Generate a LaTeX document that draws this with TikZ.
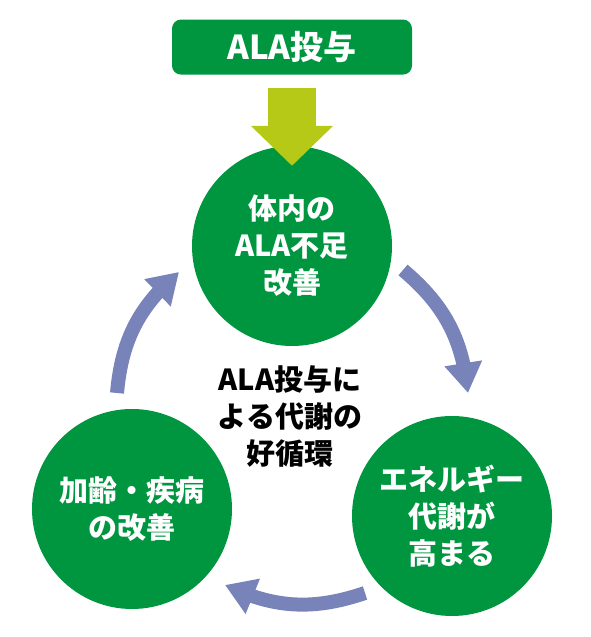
\documentclass[tikz,border=0pt]{standalone}
\usepackage{fontspec}
\setmainfont{Noto Sans CJK JP}
\usepackage{tikz}
\usetikzlibrary{arrows.meta, bending, positioning}
\definecolor{leaf}{RGB}{0,150,64}
\definecolor{lime}{RGB}{181,201,22}
\definecolor{cycle}{RGB}{120,131,186}

\begin{document}
\begin{tikzpicture}[x=1pt, y=1pt, node distance=71pt,
        every node/.style={font=\fontsize{29}{37}\selectfont\bfseries},
        circ/.style={circle, fill=leaf, text=white, minimum size=200pt, inner sep=0pt, align=center},
        dose/.style={rectangle, fill=leaf, text=white, rounded corners=9pt, minimum width=240pt, minimum height=55pt,
            font=\fontsize{33}{37}\selectfont\bfseries},
        feed/.style={draw=lime, line width=48pt, -{Triangle[width=80pt, length=40pt]}},
        turn/.style={draw=cycle, line width=14pt, -{Triangle[width=36pt, length=30pt]}}]
        \useasboundingbox (0,0) rectangle (590,637);

        \node[circ] (body) at (292,391) {体内の\\ALA不足\\改善};
        \node[dose, above=of body] (ala) {ALA投与};
        \node[circ] (energy) at (452,121) {エネルギー\\代謝が\\高まる};
        \node[circ] (aging) at (132,128) {加齢・疾病\\の改善};
        \node[align=center] (loop) at (290,220) {ALA投与に\\よる代謝の\\好循環};

        % ends of the cycle arrows
        \coordinate (t1) at (403,367);
        \coordinate (h1) at (468,244);
        \coordinate (t2) at (365,44);
        \coordinate (h2) at (225,52);
        \coordinate (t3) at (117,244);
        \coordinate (h3) at (179,365);

        \draw[feed] ([yshift=-13pt]ala.south) -- ([yshift=-20pt]body.north);
        \draw[turn] (t1) to[bend left=22] (h1);
        \draw[turn] (t2) to[bend left=22] (h2);
        \draw[turn] (t3) to[bend left=22] (h3);
    \end{tikzpicture}
\end{document}
